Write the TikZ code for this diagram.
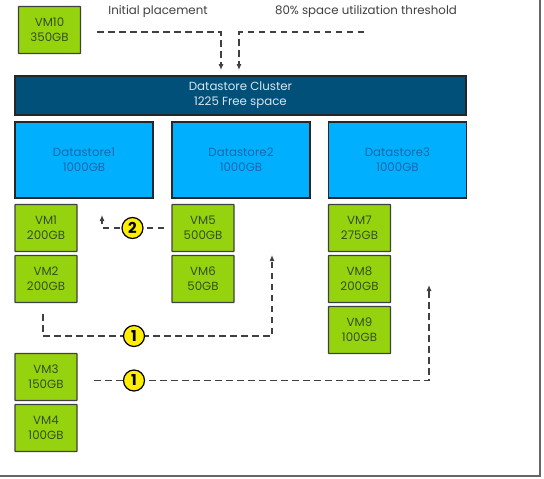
\documentclass[tikz,border=0pt]{standalone}
\usepackage{fontspec}
\setmainfont{Poppins}
\usetikzlibrary{
  positioning,
  arrows.meta,
  backgrounds
}
\definecolor{clusterblue}{HTML}{00507A}
\definecolor{storeblue}{HTML}{00B0FF}
\definecolor{storetext}{HTML}{1A68A8}
\definecolor{vmgreen}{HTML}{96D30F}
\definecolor{vmtext}{HTML}{33501C}
\definecolor{markyellow}{HTML}{FFEE00}

\begin{document}
\begin{tikzpicture}[
    x=1pt,
    y=-1pt,
    every node/.style={font=\fontsize{11.8}{15}\selectfont},
    clusterbox/.style={
        rectangle,
        draw=black!85,
        line width=1.2pt,
        align=center,
        inner sep=0pt,
        outer sep=0pt,
        minimum width=451pt,
        minimum height=39pt,
        fill=clusterblue,
        text=white!85!clusterblue
    },
    storebox/.style={
        rectangle,
        draw=black!85,
        line width=1.1pt,
        align=center,
        inner sep=0pt,
        outer sep=0pt,
        minimum width=138pt,
        minimum height=76pt,
        fill=storeblue,
        text=storetext
    },
    vmbox/.style={
        rectangle,
        rounded corners=0.5pt,
        draw=black!75,
        line width=1.2pt,
        align=center,
        inner sep=0pt,
        outer sep=0pt,
        minimum width=62pt,
        minimum height=47pt,
        fill=vmgreen,
        text=vmtext
    },
    numbermark/.style={
        circle,
        draw=black,
        line width=1.2pt,
        inner sep=0pt,
        outer sep=0pt,
        minimum size=21pt,
        fill=markyellow,
        font=\fontsize{15}{15}\selectfont\bfseries
    },
    note/.style={text=black!75, inner sep=0pt},
    arrow/.style={-{Latex[length=6pt,width=5pt]}, line width=1.1pt, dash pattern=on 6.5pt off 4.5pt, draw=black!75}
]
\useasboundingbox (0,0) rectangle (544,479);

% Outer frame
\draw[gray!80!black, line width=1.4pt] (540,0) -- (540,476) -- (0,476);

% Cluster and datastores
\node[clusterbox] (cluster) at (240.5,95.5) {Datastore Cluster\\1225 Free space};
\node[storebox] (store1) at (84,160) {Datastore1\\1000GB};
\node[storebox] (store2) at (241,160) {Datastore2\\1000GB};
\node[storebox] (store3) at (397.5,160) {Datastore3\\1000GB};

% VM blocks
\node[vmbox] (vm10) at (49.5,30) {VM10\\350GB};
\node[vmbox] (vm1) at (46,228) {VM1\\200GB};
\node[vmbox, below=4pt of vm1] (vm2) {VM2\\200GB};
\node[vmbox, below=51pt of vm2] (vm3) {VM3\\150GB};
\node[vmbox, below=4pt of vm3] (vm4) {VM4\\100GB};
\node[vmbox] (vm5) at (203,228) {VM5\\500GB};
\node[vmbox, below=4pt of vm5] (vm6) {VM6\\50GB};
\node[vmbox] (vm7) at (359.5,228) {VM7\\275GB};
\node[vmbox, below=4pt of vm7] (vm8) {VM8\\200GB};
\node[vmbox, below=4pt of vm8] (vm9) {VM9\\100GB};

% Top labels
\node[note] (initial) at (158,12) {Initial placement};
\node[note] (threshold) at (366,12) {80\% space utilization threshold};

% Numbered marks
\node[numbermark] (mark2) at (132.5,228) {2};
\node[numbermark] (mark1a) at (134,336) {1};
\node[numbermark] (mark1b) at (134,380.5) {1};

% Free ends
\coordinate (placestart) at (97,32);
\coordinate (placeend) at (221,70);
\coordinate (limitstart) at (364,32);
\coordinate (limitend) at (239,70);
\coordinate (swapstart) at (164,228);
\coordinate (swapend) at (102,215);
\coordinate (movestart) at (43,314);
\coordinate (moveend) at (272,255);
\coordinate (thirdstart) at (94,380.5);
\coordinate (thirdend) at (429,285);

% Arrows
\begin{scope}[on background layer]
\draw[arrow] (placestart) -| (placeend);
\draw[arrow] (limitstart) -| (limitend);
\draw[arrow] (swapstart) -- (swapend |- mark2) -- (swapend);
\draw[arrow] (movestart) |- (moveend |- mark1a) -- (moveend);
\draw[arrow] (thirdstart) -- (thirdend |- mark1b) -- (thirdend);
\end{scope}

\end{tikzpicture}
\end{document}
